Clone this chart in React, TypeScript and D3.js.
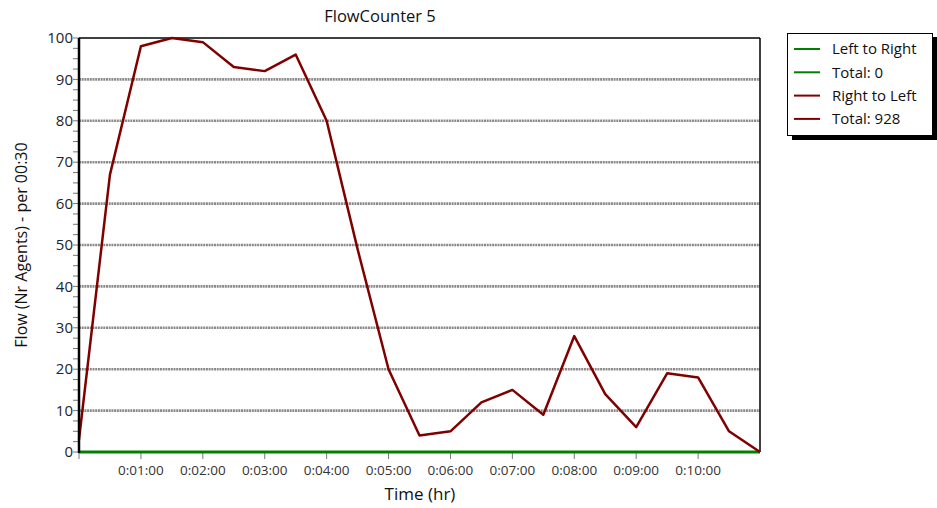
import { scaleLinear, line } from "d3";

const width = 937;
const height = 508;
const margin = { top: 38, left: 79, right: 177, bottom: 56 };

// minutes (every 30 s)
const times = [0, 0.5, 1, 1.5, 2, 2.5, 3, 3.5, 4, 4.5, 5, 5.5, 6, 6.5, 7, 7.5, 8, 8.5, 9, 9.5, 10, 10.5, 11];
const rightToLeft = [3, 67, 98, 100, 99, 93, 92, 96, 80, 49, 20, 4, 5, 12, 15, 9, 28, 14, 6, 19, 18, 5, 0];
const leftToRight = [0, 0, 0, 0, 0, 0, 0, 0, 0, 0, 0, 0, 0, 0, 0, 0, 0, 0, 0, 0, 0, 0, 0];
const yTicks = [0, 10, 20, 30, 40, 50, 60, 70, 80, 90, 100];
const xTicks = [1, 2, 3, 4, 5, 6, 7, 8, 9, 10];
const xTickLabels = ["0:01:00", "0:02:00", "0:03:00", "0:04:00", "0:05:00", "0:06:00", "0:07:00", "0:08:00", "0:09:00", "0:10:00"];
const legendItems = [
  { label: "Left to Right", color: "#008000" },
  { label: "Total: 0", color: "#008000" },
  { label: "Right to Left", color: "#800000" },
  { label: "Total: 928", color: "#800000" },
];

const font = "'Open Sans', 'Noto Sans', sans-serif";

const App = () => {
  const x0 = margin.left;
  const x1 = width - margin.right;
  const y0 = height - margin.bottom;
  const y1 = margin.top;
  const xScale = scaleLinear().domain([0, 11]).range([x0, x1]);
  const yScale = scaleLinear().domain([0, 100]).range([y0, y1]);

  const minorTicks: number[] = [];
  for (let v = 0; v < 100; v += 2.5) if (v % 10 !== 0) minorTicks.push(v);

  const path = line<number>()
    .x((_, i) => xScale(times[i]))
    .y((d) => yScale(d));

  return (
    <svg width={width} height={height} style={{ position: "absolute", left: 0, top: 0 }}>
      <rect width={width} height={height} fill="#fff" />
      <text x={380} y={22} textAnchor="middle" fontFamily={font} fontSize={16.5} fill="#111">
        FlowCounter 5
      </text>

      {/* grid */}
      {yTicks.slice(1, -1).map((t) => (
        <line
          key={t}
          x1={x0}
          x2={x1}
          y1={yScale(t)}
          y2={yScale(t)}
          stroke="#8a8a8a"
          strokeWidth={2.6}
          strokeDasharray="2 0.7"
        />
      ))}

      {/* y ticks */}
      {minorTicks.map((t) => (
        <line key={t} x1={x0 - 6} x2={x0} y1={yScale(t)} y2={yScale(t)} stroke="#777" strokeWidth={1} />
      ))}
      {yTicks.map((t) => (
        <g key={t}>
          <line x1={x0 - 6} x2={x0} y1={yScale(t)} y2={yScale(t)} stroke="#777" strokeWidth={1} />
          <text x={x0 - 6} y={yScale(t)} dy="0.35em" textAnchor="end" fontFamily={font} fontSize={15} fill="#1c2430">
            {t}
          </text>
        </g>
      ))}

      {/* x ticks */}
      {[0, ...xTicks].map((t) => (
        <line key={t} x1={xScale(t)} x2={xScale(t)} y1={y0} y2={y0 + 7} stroke="#777" strokeWidth={1} />
      ))}
      {xTicks.map((t, i) => (
        <text key={t} x={xScale(t)} y={475} textAnchor="middle" fontFamily={font} fontSize={13.5} fill="#333">
          {xTickLabels[i]}
        </text>
      ))}

      {/* frame */}
      <line x1={x0} x2={x1} y1={y1} y2={y1} stroke="#000" strokeWidth={1.5} />
      <line x1={x1} x2={x1} y1={y1} y2={y0} stroke="#000" strokeWidth={1.5} />

      {/* series */}
      <path d={path(leftToRight) ?? ""} fill="none" stroke="#008000" strokeWidth={3} />
      <path d={path(rightToLeft) ?? ""} fill="none" stroke="#800000" strokeWidth={2.5} strokeLinejoin="round" />
      <line x1={x0} x2={x0} y1={y1} y2={y0 + 1} stroke="#000" strokeWidth={2.5} />

      {/* axis titles */}
      <text x={420} y={500} textAnchor="middle" fontFamily={font} fontSize={17} fill="#111">
        Time (hr)
      </text>
      <text
        transform={`translate(27, ${(y0 + y1) / 2}) rotate(-90)`}
        textAnchor="middle"
        fontFamily={font}
        fontSize={16}
        fill="#111"
      >
        Flow (Nr Agents) - per 00:30
      </text>

      {/* legend */}
      <rect x={792} y={37} width={145} height={103} fill="#000" />
      <rect x={787.5} y={33.5} width={145} height={102} fill="#fff" stroke="#000" strokeWidth={1} />
      {legendItems.map((d, i) => (
        <g key={d.label} transform={`translate(0, ${49 + i * 23.3})`}>
          <line x1={794} x2={820} y1={0} y2={0} stroke={d.color} strokeWidth={2} />
          <text x={832} y={0} dy="0.35em" fontFamily={font} fontSize={15} fill="#111">
            {d.label}
          </text>
        </g>
      ))}
    </svg>
  );
};

export default App;
